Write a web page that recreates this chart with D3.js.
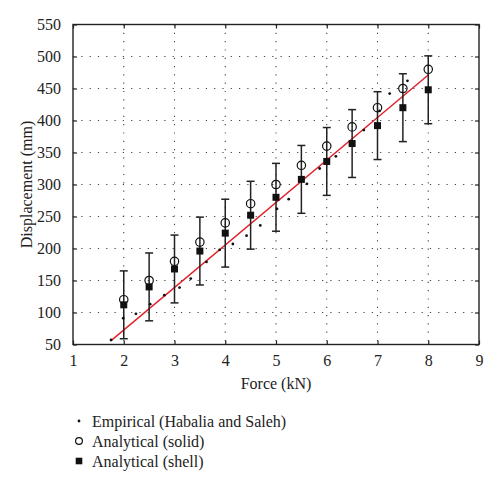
<!DOCTYPE html>
<html>
<head>
<meta charset="utf-8">
<script src="https://cdn.jsdelivr.net/npm/d3@7"></script>
<style>
  body { margin: 0; background: #fff; }
  text { font-family: "Liberation Serif", "DejaVu Serif", serif; fill: #222; }
</style>
</head>
<body>
<div id="chart"></div>
<script>
// values
var forces = [2, 2.5, 3, 3.5, 4, 4.5, 5, 5.5, 6, 6.5, 7, 7.5, 8];
var solid = [120, 150, 180, 210, 240, 270, 300, 330, 360, 390, 420, 450, 480];
var shell = [112, 140, 168, 196, 224, 252, 280, 308, 336, 364, 392, 420, 448];
var shellErr = [53, 53, 53, 53, 53, 53, 53, 53, 53, 53, 53, 53, 53];

var empForce = [1.75, 1.99, 2.24, 2.52, 2.80, 3.10, 3.32, 3.63, 3.89, 4.15, 4.42, 4.69, 5.02, 5.25, 5.61, 5.86, 6.18, 6.73, 7.04, 7.24, 7.59];
var empDisp = [57, 91, 98, 113, 127, 139, 153, 179, 198, 207, 220, 236, 262, 277, 301, 325, 344, 385, 415, 442, 462];

var fitForce = [1.75, 8];
var fitDisp = [56, 471];

var xTicks = [1, 2, 3, 4, 5, 6, 7, 8, 9];
var yTicks = [50, 100, 150, 200, 250, 300, 350, 400, 450, 500, 550];

var legendLabels = ["Empirical (Habalia and Saleh)", "Analytical (solid)", "Analytical (shell)"];

var W = 500, H = 489;
var margin = { top: 24.5, right: 21, bottom: 144.5, left: 73 };
var width = W - margin.left - margin.right,
  height = H - margin.top - margin.bottom;

var svgRoot = d3.select("#chart").append("svg")
  .attr("width", W)
  .attr("height", H);

var svg = svgRoot.append("g")
  .attr("transform", `translate(${margin.left}, ${margin.top})`);

var x = d3.scaleLinear([1, 9], [0, width]);
var y = d3.scaleLinear([50, 550], [height, 0]);

// dotted grid
svg.append("g")
  .selectAll("line")
  .data(xTicks.slice(1, -1))
  .join("line")
  .attr("x1", (d) => x(d)).attr("x2", (d) => x(d))
  .attr("y1", 0).attr("y2", height)
  .style("stroke", "#444")
  .style("stroke-width", 1.1)
  .style("stroke-dasharray", "1.2,7.1");

svg.append("g")
  .selectAll("line")
  .data(yTicks.slice(1, -1))
  .join("line")
  .attr("y1", (d) => y(d)).attr("y2", (d) => y(d))
  .attr("x1", 0).attr("x2", width)
  .style("stroke", "#444")
  .style("stroke-width", 1.1)
  .style("stroke-dasharray", "1.2,7.1");

// axes, ticks pointing inward
var xAxis = d3.axisBottom(x).tickValues(xTicks).tickSizeInner(-4).tickSizeOuter(0).tickPadding(10);
var yAxis = d3.axisLeft(y).tickValues(yTicks).tickSizeInner(-4).tickSizeOuter(0).tickPadding(12);
var xTop = d3.axisTop(x).tickValues(xTicks).tickSizeInner(-4).tickSizeOuter(0).tickFormat("");
var yRight = d3.axisRight(y).tickValues(yTicks).tickSizeInner(-4).tickSizeOuter(0).tickFormat("");

function styleAxis(g) {
  g.select(".domain").remove();
  g.selectAll(".tick line").style("stroke", "#222").style("stroke-width", 1.2);
  g.selectAll("text").style("font-size", "16px").style("font-family", '"Liberation Serif", serif').attr("fill", "#222");
}

svg.append("g").attr("transform", `translate(0, ${height})`).call(xAxis).call(styleAxis);
svg.append("g").call(yAxis).call(styleAxis);
svg.append("g").call(xTop).call(styleAxis);
svg.append("g").attr("transform", `translate(${width}, 0)`).call(yRight).call(styleAxis);

svg.append("rect")
  .attr("width", width)
  .attr("height", height)
  .style("fill", "none")
  .style("stroke", "#222")
  .style("stroke-width", 1.4);

// axis titles
svg.append("text")
  .attr("x", width / 2)
  .attr("y", height + 44)
  .attr("text-anchor", "middle")
  .style("font-size", "16px")
  .text("Force (kN)");

svg.append("text")
  .attr("transform", `translate(${-41}, ${height / 2}) rotate(-90)`)
  .attr("text-anchor", "middle")
  .style("font-size", "16px")
  .text("Displacement (mm)");

// fitted red line
var line = d3.line().x((d) => x(d[0])).y((d) => y(d[1]));
svg.append("path")
  .datum(d3.zip(fitForce, fitDisp))
  .attr("d", line)
  .style("fill", "none")
  .style("stroke", "#e0202a")
  .style("stroke-width", 1.4);

// error bars on shell values
var eb = svg.append("g")
  .selectAll("g")
  .data(d3.range(forces.length))
  .join("g")
  .style("stroke", "#222")
  .style("stroke-width", 1.5);
eb.append("line")
  .attr("x1", (i) => x(forces[i])).attr("x2", (i) => x(forces[i]))
  .attr("y1", (i) => y(shell[i] - shellErr[i]))
  .attr("y2", (i) => y(shell[i] + shellErr[i]));
eb.append("line")
  .attr("x1", (i) => x(forces[i]) - 4).attr("x2", (i) => x(forces[i]) + 4)
  .attr("y1", (i) => y(shell[i] - shellErr[i]))
  .attr("y2", (i) => y(shell[i] - shellErr[i]));
eb.append("line")
  .attr("x1", (i) => x(forces[i]) - 4).attr("x2", (i) => x(forces[i]) + 4)
  .attr("y1", (i) => y(shell[i] + shellErr[i]))
  .attr("y2", (i) => y(shell[i] + shellErr[i]));

// empirical points
svg.append("g")
  .selectAll("circle")
  .data(d3.zip(empForce, empDisp))
  .join("circle")
  .attr("cx", (d) => x(d[0]))
  .attr("cy", (d) => y(d[1]))
  .attr("r", 1.4)
  .style("fill", "#111");

// analytical solid: open circles
svg.append("g")
  .selectAll("circle")
  .data(d3.zip(forces, solid))
  .join("circle")
  .attr("cx", (d) => x(d[0]))
  .attr("cy", (d) => y(d[1]))
  .attr("r", 4.2)
  .style("fill", "none")
  .style("stroke", "#111")
  .style("stroke-width", 1.2);

// analytical shell: filled squares
var sq = 7;
svg.append("g")
  .selectAll("rect")
  .data(d3.zip(forces, shell))
  .join("rect")
  .attr("x", (d) => x(d[0]) - sq / 2)
  .attr("y", (d) => y(d[1]) - sq / 2)
  .attr("width", sq)
  .attr("height", sq)
  .style("fill", "#111");

// legend
var legend = svgRoot.append("g").attr("transform", "translate(79, 421)");
var rows = legend.selectAll("g")
  .data(legendLabels)
  .join("g")
  .attr("transform", (d, i) => `translate(0, ${i * 20})`);

rows.filter((d, i) => i == 0).append("circle").attr("r", 1.4).style("fill", "#111");
rows.filter((d, i) => i == 1).append("circle").attr("r", 3.4)
  .style("fill", "none").style("stroke", "#111").style("stroke-width", 1.2);
rows.filter((d, i) => i == 2).append("rect")
  .attr("x", -3.3).attr("y", -3.3).attr("width", 6.6).attr("height", 6.6)
  .style("fill", "#111");

rows.append("text")
  .attr("x", 13)
  .attr("y", 5.5)
  .style("font-size", "16px")
  .text((d) => d);
</script>
</body>
</html>
